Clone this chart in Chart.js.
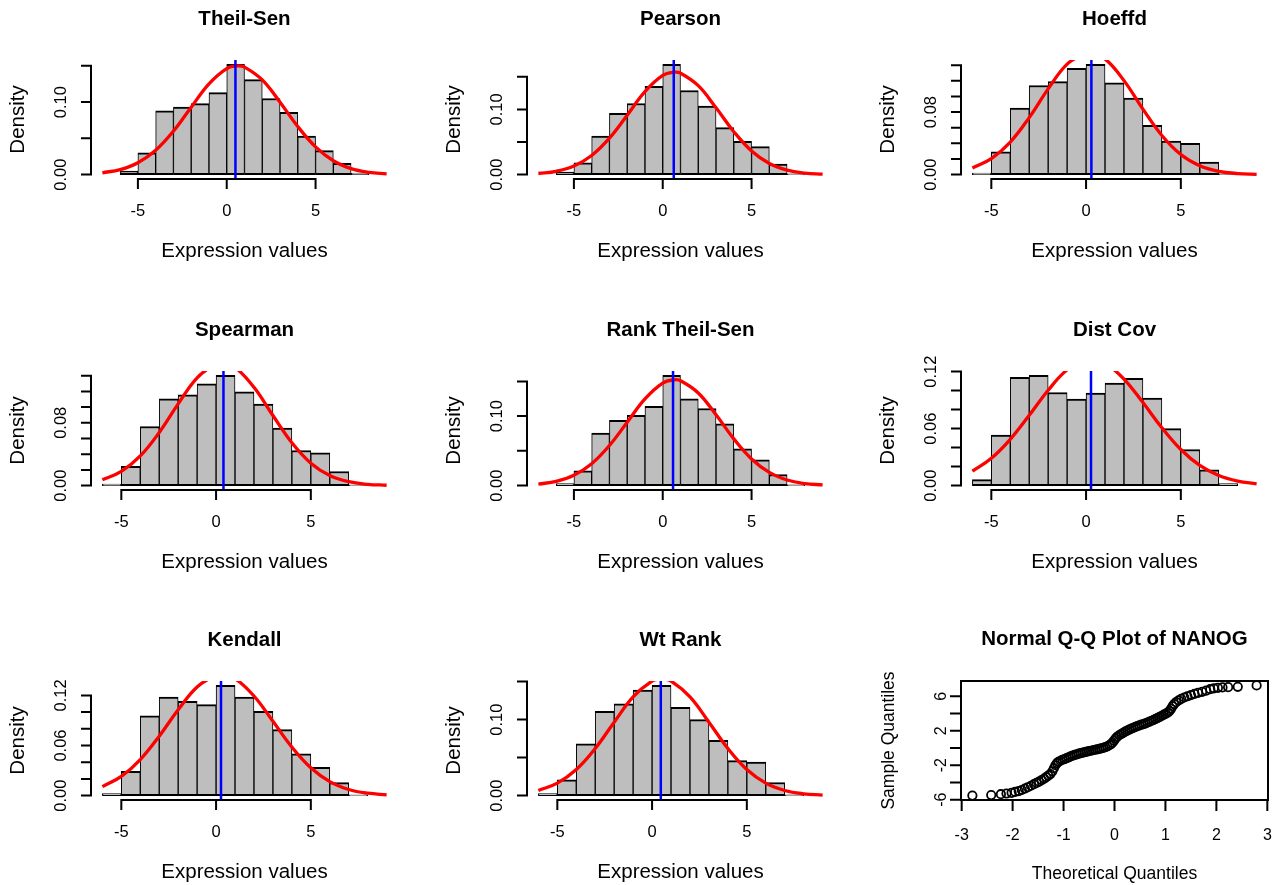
<!DOCTYPE html>
<html>
<head>
<meta charset="utf-8">
<script src="https://cdn.jsdelivr.net/npm/chart.js@4.4.1/dist/chart.umd.min.js"></script>
<style>
html, body { margin: 0; padding: 0; background: #ffffff; width: 1280px; height: 885px; overflow: hidden; position: relative; }
canvas { position: absolute; }
</style>
</head>
<body>
<script>
// ---------------- DATA ----------------
const panelTitles = ['Theil-Sen', 'Pearson', 'Hoeffd', 'Spearman', 'Rank Theil-Sen', 'Dist Cov', 'Kendall', 'Wt Rank'];
const xAxisTitle = 'Expression values';
const yAxisTitle = 'Density';

// histogram bins (left edges, width 1)
const binStarts = [-6, -5, -4, -3, -2, -1, 0, 1, 2, 3, 4, 5, 6, 7];

const densTheilSen    = [0.005, 0.030, 0.088, 0.093, 0.098, 0.113, 0.152, 0.131, 0.105, 0.086, 0.053, 0.033, 0.0155, 0.002];
const densPearson     = [0.004, 0.018, 0.059, 0.094, 0.109, 0.1355, 0.169, 0.129, 0.105, 0.072, 0.051, 0.043, 0.016, 0.001];
const densHoeffd      = [0.002, 0.029, 0.085, 0.114, 0.119, 0.136, 0.141, 0.1175, 0.098, 0.063, 0.043, 0.040, 0.016, 0.001];
const densSpearman    = [0.002, 0.0247, 0.0753, 0.1106, 0.1157, 0.1298, 0.1404, 0.1196, 0.1038, 0.0732, 0.0447, 0.0417, 0.0179, 0.001];
const densRankTheil   = [0.003, 0.0214, 0.0757, 0.094, 0.101, 0.114, 0.1586, 0.125, 0.111, 0.089, 0.053, 0.037, 0.016, 0.001];
const densDistCov     = [0.0063, 0.0533, 0.114, 0.116, 0.098, 0.091, 0.0975, 0.108, 0.113, 0.092, 0.060, 0.038, 0.0165, 0.002];
const densKendall     = [0.0024, 0.029, 0.0956, 0.118, 0.113, 0.109, 0.132, 0.118, 0.101, 0.079, 0.050, 0.034, 0.0156, 0.001];
const densWtRank      = [0.0026, 0.0207, 0.068, 0.111, 0.1207, 0.1388, 0.145, 0.116, 0.100, 0.0727, 0.046, 0.044, 0.0172, 0.001];

// fitted normal curves
const curveXTheilSen  = [-7, -6, -5, -4, -3, -2, -1, 0, 0.6, 1, 2, 3, 4, 5, 6, 7, 8, 9];
const curveYTheilSen  = [0.00253, 0.00691, 0.01636, 0.03362, 0.06003, 0.09303, 0.12518, 0.14622, 0.14998, 0.14831, 0.13059, 0.09984, 0.06626, 0.03819, 0.01911, 0.00830, 0.00313, 0.00102];
const curveXPearson   = [-7, -6, -5, -4, -3, -2, -1, 0, 0.65, 1, 2, 3, 4, 5, 6, 7, 8, 9];
const curveYPearson   = [0.00168, 0.00510, 0.01323, 0.02940, 0.05593, 0.09114, 0.12718, 0.15200, 0.15706, 0.15558, 0.13637, 0.10238, 0.06582, 0.03624, 0.01709, 0.00690, 0.00239, 0.00071];
const curveXHoeffd    = [-6, -5, -4, -3, -2, -1, 0, 0.15, 1, 2, 3, 4, 5, 6, 7, 8, 9];
const curveYHoeffd    = [0.00854, 0.02036, 0.04161, 0.07295, 0.10965, 0.14132, 0.15618, 0.15645, 0.14800, 0.12025, 0.08378, 0.05005, 0.02564, 0.01126, 0.00424, 0.00137, 0.00038];
const curveXSpearman  = [-6, -5, -4, -3, -2, -1, 0, 0.3, 1, 2, 3, 4, 5, 6, 7, 8, 9];
const curveYSpearman  = [0.00739, 0.01804, 0.03775, 0.06772, 0.10417, 0.13738, 0.15537, 0.15645, 0.15066, 0.12528, 0.08931, 0.05460, 0.02862, 0.01287, 0.00496, 0.00164, 0.00046];
const curveXRankTheil = [-7, -6, -5, -4, -3, -2, -1, 0, 0.65, 1, 2, 3, 4, 5, 6, 7, 8, 9];
const curveYRankTheil = [0.00214, 0.00608, 0.01489, 0.03152, 0.05770, 0.09130, 0.12488, 0.14765, 0.15227, 0.15092, 0.13334, 0.10184, 0.06724, 0.03837, 0.01893, 0.00807, 0.00298, 0.00095];
const curveXDistCov   = [-6, -5, -4, -3, -2, -1, 0, 0.25, 1, 2, 3, 4, 5, 6, 7, 8, 9];
const curveYDistCov   = [0.01518, 0.02876, 0.04875, 0.07395, 0.10038, 0.12192, 0.13252, 0.13298, 0.12889, 0.11218, 0.08736, 0.06088, 0.03797, 0.02119, 0.01058, 0.00473, 0.00189];
const curveXKendall   = [-6, -5, -4, -3, -2, -1, 0, 0.28, 1, 2, 3, 4, 5, 6, 7, 8, 9];
const curveYKendall   = [0.01070, 0.02297, 0.04321, 0.07123, 0.10288, 0.13018, 0.14432, 0.14507, 0.14018, 0.11930, 0.08895, 0.05811, 0.03326, 0.01668, 0.00733, 0.00282, 0.00095];
const curveXWtRank    = [-6, -5, -4, -3, -2, -1, 0, 0.5, 1, 2, 3, 4, 5, 6, 7, 8, 9];
const curveYWtRank    = [0.00674, 0.01638, 0.03431, 0.06200, 0.09665, 0.12992, 0.15063, 0.15344, 0.15063, 0.12992, 0.09665, 0.06200, 0.03431, 0.01638, 0.00674, 0.00239, 0.00073];

// blue vertical reference lines
const blueLineValues = [0.49, 0.62, 0.28, 0.39, 0.58, 0.26, 0.26, 0.46];

// x limits of each histogram plot
const xLimits = [[-7, 9], [-7, 9], [-6, 9], [-6, 9], [-7, 9], [-6, 9], [-6, 9], [-6, 9]];

// tick values & labels
const xTickValues = [-5, 0, 5];
const xTickLabels = ['-5', '0', '5'];
const yTicks015 = [0, 0.05, 0.10, 0.15];
const yLabels015 = ['0.00', '', '0.10', ''];
const yTicks014 = [0, 0.02, 0.04, 0.06, 0.08, 0.10, 0.12, 0.14];
const yLabels014 = ['0.00', '', '', '', '0.08', '', '', ''];
const yTicks012 = [0, 0.02, 0.04, 0.06, 0.08, 0.10, 0.12];
const yLabels012 = ['0.00', '', '', '0.06', '', '', '0.12'];

// Q-Q plot of NANOG
const qqTitle = 'Normal Q-Q Plot of NANOG';
const qqXTitle = 'Theoretical Quantiles';
const qqYTitle = 'Sample Quantiles';
const qqTheo = [-2.79, -2.42, -2.23, -2.12, -2.02, -1.95, -1.88, -1.82, -1.76, -1.70,
  -1.64, -1.58, -1.53, -1.48, -1.43, -1.38, -1.34, -1.30, -1.26, -1.22,
  -1.19, -1.16, -1.13, -1.10, -1.06, -1.02, -0.98, -0.94, -0.90, -0.86,
  -0.82, -0.78, -0.74, -0.70, -0.66, -0.62, -0.58, -0.54, -0.50, -0.46,
  -0.42, -0.38, -0.34, -0.30, -0.26, -0.22, -0.18, -0.14, -0.10, -0.07,
  -0.04, -0.01, 0.02, 0.05, 0.09, 0.13, 0.17, 0.21, 0.25, 0.29,
  0.33, 0.37, 0.41, 0.45, 0.49, 0.53, 0.57, 0.61, 0.65, 0.69,
  0.73, 0.77, 0.81, 0.85, 0.89, 0.93, 0.97, 1.01, 1.05, 1.08,
  1.11, 1.14, 1.17, 1.21, 1.26, 1.31, 1.37, 1.43, 1.50, 1.57,
  1.64, 1.72, 1.80, 1.88, 1.95, 2.03, 2.12, 2.23, 2.42, 2.79];
const qqSample = [-5.52, -5.46, -5.36, -5.28, -5.20, -5.10, -5.00, -4.87, -4.70, -4.55,
  -4.38, -4.20, -4.05, -3.90, -3.72, -3.55, -3.38, -3.20, -3.02, -2.70,
  -2.35, -2.00, -1.75, -1.60, -1.48, -1.36, -1.28, -1.18, -1.08, -0.98,
  -0.88, -0.80, -0.73, -0.66, -0.60, -0.54, -0.48, -0.43, -0.37, -0.32,
  -0.26, -0.20, -0.15, -0.10, -0.05, 0.02, 0.10, 0.20, 0.32, 0.45,
  0.62, 0.85, 1.10, 1.30, 1.48, 1.62, 1.76, 1.90, 2.02, 2.14,
  2.24, 2.34, 2.44, 2.53, 2.62, 2.70, 2.78, 2.86, 2.96, 3.06,
  3.16, 3.26, 3.38, 3.50, 3.62, 3.74, 3.86, 3.98, 4.12, 4.30,
  4.55, 4.85, 5.10, 5.32, 5.52, 5.70, 5.86, 6.00, 6.14, 6.28,
  6.40, 6.52, 6.66, 6.82, 6.92, 6.98, 7.03, 7.06, 7.10, 7.26];
const qqXTicks = [-3, -2, -1, 0, 1, 2, 3];
const qqXTickLabels = ['-3', '-2', '-1', '0', '1', '2', '3'];
const qqYTicks = [-6, -4, -2, 0, 2, 4, 6];
const qqYTickLabels = ['-6', '', '-2', '', '2', '', '6'];

const densities = [densTheilSen, densPearson, densHoeffd, densSpearman, densRankTheil, densDistCov, densKendall, densWtRank];
const curvesX = [curveXTheilSen, curveXPearson, curveXHoeffd, curveXSpearman, curveXRankTheil, curveXDistCov, curveXKendall, curveXWtRank];
const curvesY = [curveYTheilSen, curveYPearson, curveYHoeffd, curveYSpearman, curveYRankTheil, curveYDistCov, curveYKendall, curveYWtRank];
const yTickSets = [yTicks015, yTicks015, yTicks014, yTicks014, yTicks015, yTicks012, yTicks012, yTicks015];
const yLabelSets = [yLabels015, yLabels015, yLabels014, yLabels014, yLabels015, yLabels012, yLabels012, yLabels015];

// ---------------- LAYOUT / STYLE ----------------
const FONT = '"Liberation Sans", Arial, Helvetica, sans-serif';
const COL_LEFT = [91, 527, 961];
const ROW_TOP = [60, 371, 681];
const PLOT_W = 307;
const PLOT_H = 119;
const CANVAS_W = 411, CANVAS_H = 282, PAD_L = 91, PAD_T = 60;

function expand(lo, hi) { const d = (hi - lo) * 0.04; return [lo - d, hi + d]; }

function rAxesPlugin(cfg) {
  return {
    id: 'rAxes',
    afterDraw(chart) {
      const ctx = chart.ctx, a = chart.chartArea, xs = chart.scales.x, ys = chart.scales.y;
      const cx = (a.left + a.right) / 2, cy = (a.top + a.bottom) / 2;
      ctx.save();
      ctx.strokeStyle = '#000'; ctx.fillStyle = '#000'; ctx.lineWidth = 2; ctx.lineCap = 'butt';
      const xp = cfg.xTicks.map(v => xs.getPixelForValue(v));
      const yp = cfg.yTicks.map(v => ys.getPixelForValue(v));
      ctx.beginPath();
      if (cfg.box) {
        ctx.rect(a.left, a.top, a.right - a.left, a.bottom - a.top);
      } else {
        ctx.moveTo(xp[0] - 1, a.bottom); ctx.lineTo(xp[xp.length - 1] + 1, a.bottom);
        ctx.moveTo(a.left, yp[0] + 1); ctx.lineTo(a.left, yp[yp.length - 1] - 1);
      }
      xp.forEach(p => { ctx.moveTo(p, a.bottom); ctx.lineTo(p, a.bottom + cfg.tick); });
      yp.forEach(p => { ctx.moveTo(a.left, p); ctx.lineTo(a.left - cfg.tick, p); });
      ctx.stroke();
      ctx.textAlign = 'center'; ctx.textBaseline = 'middle';
      ctx.font = cfg.tickFont;
      xp.forEach((p, i) => { if (cfg.xLabels[i]) ctx.fillText(cfg.xLabels[i], p, a.bottom + cfg.xLabOff); });
      yp.forEach((p, i) => {
        if (!cfg.yLabels[i]) return;
        ctx.save(); ctx.translate(a.left - cfg.yLabOff, p); ctx.rotate(-Math.PI / 2);
        ctx.fillText(cfg.yLabels[i], 0, 0); ctx.restore();
      });
      ctx.font = cfg.titleFont;
      ctx.fillText(cfg.title, cx, a.top - cfg.titleOff);
      ctx.font = cfg.labFont;
      ctx.fillText(cfg.xTitle, cx, a.bottom + cfg.xTitleOff);
      ctx.save(); ctx.translate(a.left - cfg.yTitleOff, cy); ctx.rotate(-Math.PI / 2);
      ctx.fillText(cfg.yTitle, 0, 0); ctx.restore();
      ctx.restore();
    }
  };
}

function makeCanvas(i) {
  const col = i % 3, row = Math.floor(i / 3);
  const c = document.createElement('canvas');
  c.width = CANVAS_W; c.height = CANVAS_H;
  c.style.width = CANVAS_W + 'px'; c.style.height = CANVAS_H + 'px';
  c.style.left = (COL_LEFT[col] - PAD_L) + 'px';
  c.style.top = (ROW_TOP[row] - PAD_T) + 'px';
  document.body.appendChild(c);
  return c;
}

const padding = { left: PAD_L, top: PAD_T, right: CANVAS_W - PAD_L - PLOT_W, bottom: CANVAS_H - PAD_T - PLOT_H };

// ---------------- HISTOGRAM PANELS ----------------
for (let i = 0; i < 8; i++) {
  const canvas = makeCanvas(i);
  const dens = densities[i];
  const [xMin, xMax] = expand(xLimits[i][0], xLimits[i][1]);
  const [yMin, yMax] = expand(0, Math.max(...dens));
  const m = blueLineValues[i];
  new Chart(canvas, {
    type: 'bar',
    data: {
      datasets: [
        {
          type: 'line',
          data: [{ x: m, y: yMin }, { x: m, y: yMax }],
          borderColor: '#0000ff', borderWidth: 2.5, pointRadius: 0, fill: false, order: 1, clip: 0
        },
        {
          type: 'line',
          data: curvesX[i].map((x, k) => ({ x: x, y: curvesY[i][k] })),
          borderColor: '#ff0000', borderWidth: 3.3, pointRadius: 0, tension: 0.4, fill: false, order: 2, clip: 0
        },
        {
          type: 'bar',
          data: binStarts.map((b, k) => ({ x: b + 0.5, y: dens[k] })),
          backgroundColor: '#bebebe', borderColor: '#000000',
          borderWidth: { left: 1, right: 1, top: 2, bottom: 2 }, borderSkipped: false,
          barPercentage: 1, categoryPercentage: 1, order: 3
        }
      ]
    },
    options: {
      responsive: false, animation: false, devicePixelRatio: 1, events: [],
      layout: { padding: padding },
      plugins: { legend: { display: false }, tooltip: { enabled: false }, title: { display: false } },
      scales: {
        x: { type: 'linear', display: false, min: xMin, max: xMax, offset: false },
        y: { type: 'linear', display: false, min: yMin, max: yMax }
      }
    },
    plugins: [rAxesPlugin({
      box: false, title: panelTitles[i], xTitle: xAxisTitle, yTitle: yAxisTitle,
      xTicks: xTickValues, xLabels: xTickLabels, yTicks: yTickSets[i], yLabels: yLabelSets[i],
      tick: 10, tickFont: '16.5px ' + FONT, titleFont: 'bold 20.5px ' + FONT, labFont: '20.5px ' + FONT,
      xLabOff: 32.5, yLabOff: 30, titleOff: 40.7, xTitleOff: 72.2, yTitleOff: 73
    })]
  });
}

// ---------------- Q-Q PANEL ----------------
{
  const canvas = makeCanvas(8);
  const [xMin, xMax] = expand(Math.min(...qqTheo), Math.max(...qqTheo));
  const [yMin, yMax] = expand(Math.min(...qqSample), Math.max(...qqSample));
  new Chart(canvas, {
    type: 'scatter',
    data: {
      datasets: [{
        data: qqTheo.map((t, k) => ({ x: t, y: qqSample[k] })),
        pointStyle: 'circle', pointRadius: 4.2, pointBorderWidth: 1.8,
        pointBorderColor: '#000000', pointBackgroundColor: 'rgba(0,0,0,0)',
        borderColor: '#000000', backgroundColor: 'rgba(0,0,0,0)', showLine: false, clip: false
      }]
    },
    options: {
      responsive: false, animation: false, devicePixelRatio: 1, events: [],
      layout: { padding: padding },
      plugins: { legend: { display: false }, tooltip: { enabled: false }, title: { display: false } },
      scales: {
        x: { type: 'linear', display: false, min: xMin, max: xMax },
        y: { type: 'linear', display: false, min: yMin, max: yMax }
      }
    },
    plugins: [rAxesPlugin({
      box: true, title: qqTitle, xTitle: qqXTitle, yTitle: qqYTitle,
      xTicks: qqXTicks, xLabels: qqXTickLabels, yTicks: qqYTicks, yLabels: qqYTickLabels,
      tick: 11, tickFont: '16px ' + FONT, titleFont: 'bold 20.5px ' + FONT, labFont: '17.5px ' + FONT,
      xLabOff: 35.5, yLabOff: 19.7, titleOff: 41.6, xTitleOff: 73.8, yTitleOff: 72
    })]
  });
}
</script>
</body>
</html>
